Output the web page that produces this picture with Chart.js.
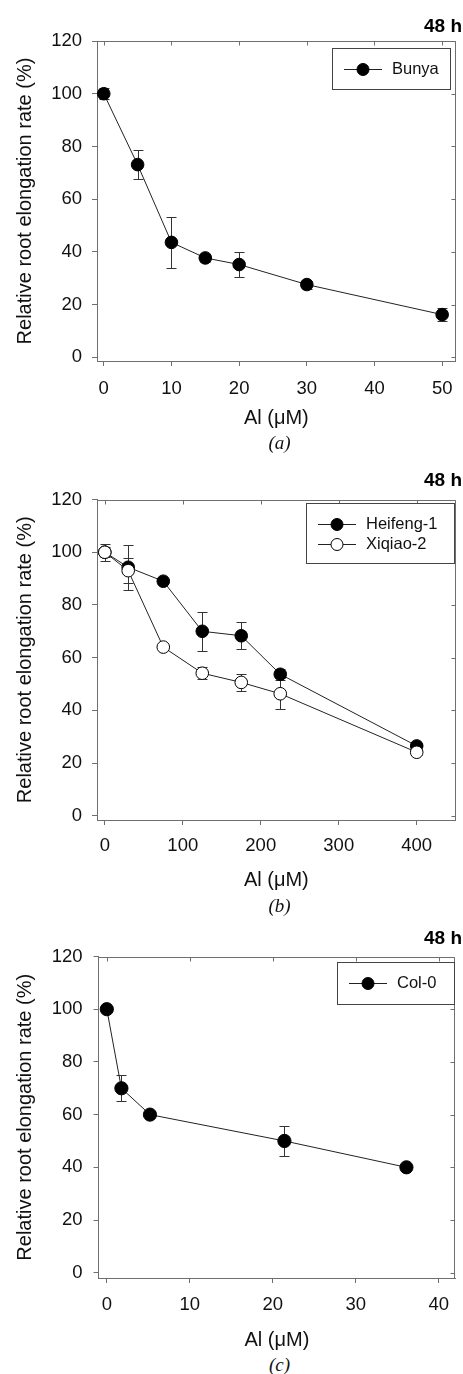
<!DOCTYPE html>
<html>
<head>
<meta charset="utf-8">
<script src="https://cdn.jsdelivr.net/npm/chart.js@4"></script>
<style>
  body { margin: 0; background: #fff; width: 463px; height: 1374px; position: relative; overflow: hidden; }
  canvas { position: absolute; left: 0; }
  .cap { position: absolute; width: 100px; margin-left: -50px; text-align: center;
         font: italic 19px "Liberation Serif", "Times New Roman", serif; line-height: 19px; color: #111; }
</style>
</head>
<body>
<canvas id="chartA" width="463" height="430" style="top:0px"></canvas>
<canvas id="chartB" width="463" height="442" style="top:452px"></canvas>
<canvas id="chartC" width="463" height="440" style="top:914px"></canvas>
<div class="cap" style="left:279.5px; top:432.5px">(a)</div>
<div class="cap" style="left:279.5px; top:895.5px">(b)</div>
<div class="cap" style="left:279.5px; top:1354.5px">(c)</div>
<script>
// eixo y comum
const yTicks = [0, 20, 40, 60, 80, 100, 120];

// (a) Bunya
const alA = [0, 5, 10, 15, 20, 30, 50];
const bunya = [100, 73.1, 43.6, 37.7, 35.2, 27.6, 16.2];
const bunyaErr = [2, 5.6, 9.7, 1.5, 4.6, 1.5, 2.5];
const xTicksA = [0, 10, 20, 30, 40, 50];

// (b) Heifeng-1 / Xiqiao-2
const alB = [0, 30, 75, 125, 175, 225, 400];
const heifeng = [100, 94.3, 89, 70, 68.3, 53.7, 26.5];
const heifengErr = [2, 8.6, 1, 7.3, 5.2, 2, 1];
const xiqiao = [100, 93, 64, 54.1, 50.6, 46.3, 24.1];
const xiqiaoErr = [3.2, 4.8, 1, 2.3, 3.1, 5.9, 1];
const xTicksB = [0, 100, 200, 300, 400];

// (c) Col-0
const alC = [0, 1.76, 5.2, 21.4, 36.1];
const col0 = [100, 70, 60, 50, 40];
const col0Err = [1, 5, 1.2, 5.6, 1];
const xTicksC = [0, 10, 20, 30, 40];

const axisColor = '#6f6f6f';
const lineColor = '#222';
Chart.defaults.font.family = '"Liberation Sans", Arial, sans-serif';
Chart.defaults.color = '#111';

// barras de erro desenhadas antes dos pontos
const errorBars = {
  id: 'errorBars',
  beforeDatasetsDraw(chart) {
    const ctx = chart.ctx;
    const xs = chart.scales.x, ys = chart.scales.y;
    ctx.save();
    ctx.strokeStyle = '#333';
    ctx.lineWidth = 1;
    chart.data.datasets.forEach(ds => {
      if (!ds.errors) return;
      ds.data.forEach((p, i) => {
        const e = ds.errors[i];
        if (!e) return;
        const x = Math.round(xs.getPixelForValue(p.x)) + 0.5;
        const y1 = Math.round(ys.getPixelForValue(p.y + e)) + 0.5;
        const y2 = Math.round(ys.getPixelForValue(p.y - e)) + 0.5;
        ctx.beginPath();
        ctx.moveTo(x, y1); ctx.lineTo(x, y2);
        ctx.moveTo(x - 5, y1); ctx.lineTo(x + 5, y1);
        ctx.moveTo(x - 5, y2); ctx.lineTo(x + 5, y2);
        ctx.stroke();
      });
    });
    ctx.restore();
  }
};

// borda de cima e da direita, com ticks para dentro
const frame = {
  id: 'frame',
  afterDatasetsDraw(chart) {
    const { ctx, chartArea: a } = chart;
    const xs = chart.scales.x, ys = chart.scales.y;
    const t = Math.round(a.top) + 0.5, r = Math.round(a.right) - 0.5;
    ctx.save();
    ctx.strokeStyle = axisColor;
    ctx.lineWidth = 1;
    ctx.beginPath();
    ctx.moveTo(a.left, t); ctx.lineTo(r, t); ctx.lineTo(r, a.bottom);
    xs.ticks.forEach(tk => {
      const x = Math.round(xs.getPixelForValue(tk.value)) + 0.5;
      ctx.moveTo(x, t); ctx.lineTo(x, t + 4);
    });
    ys.ticks.forEach(tk => {
      const y = Math.round(ys.getPixelForValue(tk.value)) + 0.5;
      ctx.moveTo(r, y); ctx.lineTo(r - 4, y);
    });
    ctx.stroke();
    ctx.restore();
  }
};

// legenda com caixa dentro do grafico
const boxLegend = {
  id: 'boxLegend',
  afterDraw(chart, args, opts) {
    const { ctx, chartArea: a } = chart;
    const left = Math.round(a.right - opts.right - opts.width), top = Math.round(a.top + opts.top);
    ctx.save();
    ctx.fillStyle = '#fff';
    ctx.fillRect(left, top, opts.width, opts.height);
    ctx.strokeStyle = '#444';
    ctx.lineWidth = 1;
    ctx.strokeRect(left + 0.5, top + 0.5, Math.round(opts.width) - 1, Math.round(opts.height) - 1);
    ctx.font = '16.5px "Liberation Sans", Arial, sans-serif';
    ctx.textBaseline = 'middle';
    chart.data.datasets.forEach((ds, i) => {
      const y = top + 21.5 + i * 20;
      ctx.strokeStyle = lineColor;
      ctx.beginPath(); ctx.moveTo(left + 12, y); ctx.lineTo(left + 50, y); ctx.stroke();
      ctx.beginPath(); ctx.arc(left + 31, y, 6, 0, Math.PI * 2);
      ctx.fillStyle = ds.pointBackgroundColor; ctx.fill();
      ctx.strokeStyle = '#000'; ctx.stroke();
      ctx.fillStyle = '#111';
      ctx.fillText(ds.label, left + 60, y);
    });
    ctx.restore();
  }
};

function serie(label, xs, ys, errs, fill, radius, order) {
  return {
    label: label,
    data: xs.map((x, i) => ({ x: x, y: ys[i] })),
    errors: errs,
    borderColor: lineColor,
    borderWidth: 1,
    pointRadius: radius,
    pointBackgroundColor: fill,
    pointBorderColor: '#000',
    pointBorderWidth: 1,
    tension: 0,
    order: order
  };
}

function makeChart(id, p) {
  const options = {
    responsive: false,
    animation: false,
    events: [],
    layout: { padding: { top: 0, left: 0, right: 1, bottom: 0 } },
    scales: {
      x: {
        type: 'linear', min: p.xMin, max: p.xMax,
        afterBuildTicks: s => { s.ticks = p.xTicks.map(v => ({ value: v })); },
        afterFit: s => { s.height = p.H - p.bottom; s.paddingLeft = 0; s.paddingRight = 0; },
        grid: { drawOnChartArea: false, tickLength: 5, color: axisColor },
        border: { color: axisColor },
        ticks: { padding: p.xTickPad, font: { size: 18.5 }, color: '#111' },
        title: { display: true, text: 'Al (μM)', font: { size: 20 }, color: '#111', padding: { top: 0, bottom: p.xTitlePad } }
      },
      y: {
        type: 'linear', min: p.yMin, max: 120,
        afterBuildTicks: s => { s.ticks = yTicks.map(v => ({ value: v })); },
        afterFit: s => { s.width = p.left; s.paddingTop = 0; s.paddingBottom = 0; },
        grid: { drawOnChartArea: false, tickLength: 5, color: axisColor },
        border: { color: axisColor },
        ticks: { padding: p.yTickPad, font: { size: 18.5 }, color: '#111' },
        title: { display: true, text: 'Relative root elongation rate (%)', font: { size: 20 }, color: '#111', padding: { top: 13, bottom: 0 } }
      }
    },
    plugins: {
      legend: { display: false },
      tooltip: { enabled: false },
      title: {
        display: true, text: '48 h', align: 'end', color: '#000',
        font: { size: 19, weight: 'bold' },
        padding: { top: p.titleTop, bottom: p.titleBottom }
      },
      boxLegend: p.legend
    }
  };
  return new Chart(document.getElementById(id), {
    type: 'line',
    data: { datasets: p.datasets },
    options: options,
    plugins: [errorBars, frame, boxLegend]
  });
}

makeChart('chartA', {
  H: 430, bottom: 361, left: 97,
  xMin: -1, xMax: 52, yMin: -1.4, xTicks: xTicksA,
  xTickPad: 11.5, yTickPad: 10, xTitlePad: 0,
  titleTop: 15.1, titleBottom: 3.1,
  legend: { right: 5, top: 7, width: 119, height: 42 },
  datasets: [serie('Bunya', alA, bunya, bunyaErr, '#000', 6.3, 0)]
});

makeChart('chartB', {
  H: 442, bottom: 368, left: 97,
  xMin: -10, xMax: 450, yMin: -1.6, xTicks: xTicksB,
  xTickPad: 9.5, yTickPad: 10, xTitlePad: 2,
  titleTop: 17.1, titleBottom: 7.6,
  legend: { right: 1, top: 3, width: 149, height: 61 },
  datasets: [
    serie('Heifeng-1', alB, heifeng, heifengErr, '#000', 6.3, 1),
    serie('Xiqiao-2', alB, xiqiao, xiqiaoErr, '#fff', 6.3, 0)
  ]
});

makeChart('chartC', {
  H: 440, bottom: 364, left: 98.5,
  xMin: -1, xMax: 42, yMin: -2, xTicks: xTicksC,
  xTickPad: 10.5, yTickPad: 11, xTitlePad: 2,
  titleTop: 12.9, titleBottom: 6.8,
  legend: { right: 0, top: 5, width: 118, height: 43 },
  datasets: [serie('Col-0', alC, col0, col0Err, '#000', 6.6, 0)]
});
</script>
</body>
</html>
